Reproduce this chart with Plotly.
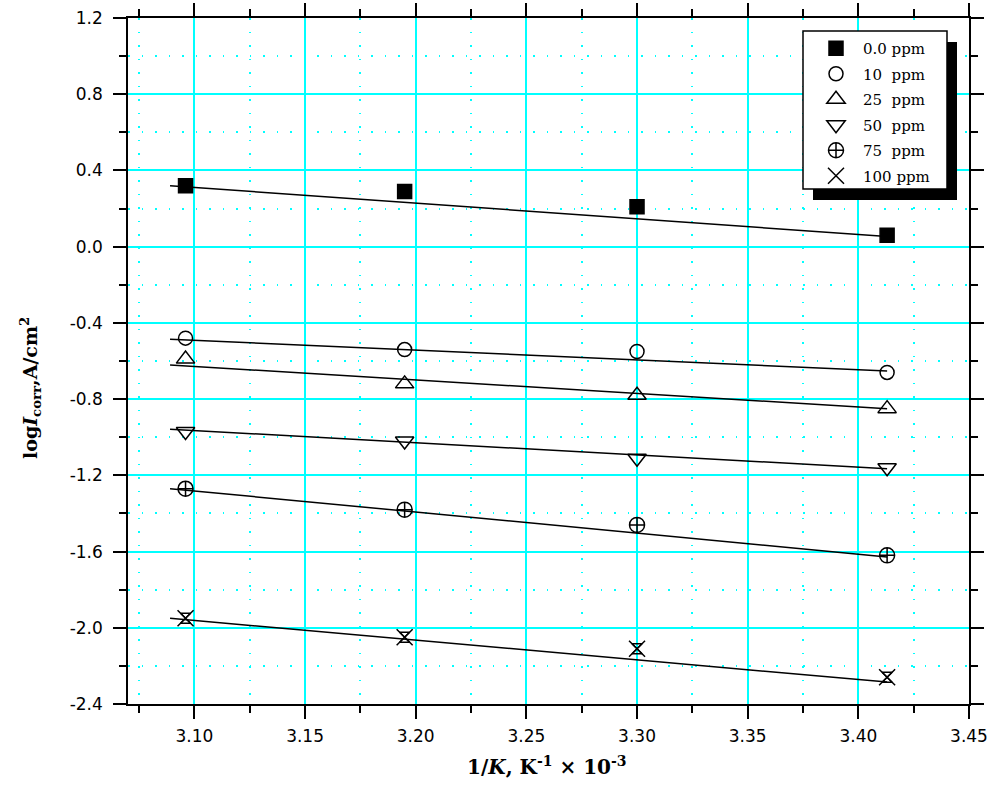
import plotly.graph_objects as go

# Inverse temperature (1/K x 10^-3) for 323, 313, 303 and 293 K
inv_temp = [3.096, 3.195, 3.300, 3.413]

# log i_corr (A/cm^2) for each inhibitor concentration
series_names = ["0.0 ppm", "10\u00a0\u00a0ppm", "25\u00a0\u00a0ppm",
                "50\u00a0\u00a0ppm", "75\u00a0\u00a0ppm", "100 ppm"]
log_icorr_0 = [0.32, 0.29, 0.21, 0.06]
log_icorr_10 = [-0.48, -0.54, -0.55, -0.66]
log_icorr_25 = [-0.59, -0.72, -0.78, -0.85]
log_icorr_50 = [-0.97, -1.02, -1.11, -1.16]
log_icorr_75 = [-1.27, -1.38, -1.46, -1.62]
log_icorr_100 = [-1.95, -2.05, -2.11, -2.26]

# Arrhenius straight lines: end points at x = fit_x[0] and fit_x[1]
fit_x = [3.089, 3.413]
fit_0 = [0.32, 0.053]
fit_10 = [-0.486, -0.652]
fit_25 = [-0.621, -0.850]
fit_50 = [-0.958, -1.165]
fit_75 = [-1.270, -1.628]
fit_100 = [-1.950, -2.285]

y_tick_vals = [1.2, 0.8, 0.4, 0.0, -0.4, -0.8, -1.2, -1.6, -2.0, -2.4]
y_tick_text = ["1.2", "0.8", "0.4", "0.0", "-0.4", "-0.8", "-1.2", "-1.6", "-2.0", "-2.4"]

values = [log_icorr_0, log_icorr_10, log_icorr_25, log_icorr_50, log_icorr_75, log_icorr_100]
fits = [fit_0, fit_10, fit_25, fit_50, fit_75, fit_100]
symbols = ["square", "circle-open", "triangle-up-open", "triangle-down-open",
           "circle-cross-open", "x-thin-open"]
sizes = [14, 14, 16, 16, 15, 16]

CYAN = "#00FFFF"
W, H = 990, 789
ML, MR, MT, MB = 128, 21, 18, 85
PW, PH = W - ML - MR, H - MT - MB


def px_x(p):
    return (p - ML) / PW


def px_y(p):
    return (H - MB - p) / PH


fig = go.Figure()

for f in fits:
    fig.add_trace(go.Scatter(x=fit_x, y=f, mode="lines",
                             line=dict(color="black", width=1.5),
                             showlegend=False, hoverinfo="skip"))

for i, (name, v, sym, sz) in enumerate(zip(series_names, values, symbols, sizes)):
    fig.add_trace(go.Scatter(
        x=inv_temp, y=v, mode="markers", name=name,
        legendgroup=f"g{i}",
        marker=dict(symbol=sym, size=sz, color="black",
                    line=dict(color="black", width=1.5)),
    ))

# inner hourglass of the 100 ppm marker
fig.add_trace(go.Scatter(
    x=inv_temp, y=log_icorr_100, mode="markers", showlegend=False,
    marker=dict(symbol="hourglass-open", size=10, color="black",
                line=dict(color="black", width=1.5)),
    hoverinfo="skip"))

# legend frame with drop shadow
box = (803, 31, 947, 189)
fig.add_shape(type="rect", xref="paper", yref="paper", layer="above",
              x0=px_x(box[0] + 10), x1=px_x(box[2] + 10),
              y0=px_y(box[3] + 11), y1=px_y(box[1] + 11),
              fillcolor="black", line=dict(width=0))
fig.add_shape(type="rect", xref="paper", yref="paper", layer="above",
              x0=px_x(box[0]), x1=px_x(box[2]),
              y0=px_y(box[3]), y1=px_y(box[1]),
              fillcolor="white", line=dict(color="black", width=1.5))

axis_common = dict(
    showline=True, linecolor="black", linewidth=1.5, mirror="ticks",
    ticks="outside", ticklen=13, tickwidth=1.5, tickcolor="black",
    showgrid=True, gridcolor=CYAN, gridwidth=1.5, zeroline=False,
    automargin=False,
    tickfont=dict(family="DejaVu Sans", size=17, color="black"),
)

fig.update_xaxes(
    range=[3.07, 3.45], tick0=3.0, dtick=0.05, tickformat=".2f",
    ticklabelstandoff=3,
    minor=dict(dtick=0.025, ticklen=7, tickwidth=1.5, tickcolor="black",
               showgrid=True, gridcolor=CYAN, gridwidth=2, griddash="1.5px,12px"),
    **axis_common)
fig.update_yaxes(
    range=[-2.4, 1.2], tickvals=y_tick_vals, ticktext=y_tick_text,
    ticklabelstandoff=7,
    minor=dict(dtick=0.2, ticklen=7, tickwidth=1.5, tickcolor="black",
               showgrid=True, gridcolor=CYAN, gridwidth=2, griddash="1.5px,12px"),
    **axis_common)

serif = "DejaVu Serif"
fig.add_annotation(
    text="<b>1/<i>K</i>, K<sup>-1</sup> \u00d7 10<sup>-3</sup></b>",
    xref="paper", yref="paper", x=px_x(547), y=px_y(766),
    xanchor="center", yanchor="middle",
    showarrow=False, font=dict(family=serif, size=20, color="black"))
fig.add_annotation(
    text="<b>log<i>I</i><sub>corr</sub>,A/cm<sup>2</sup></b>",
    xref="paper", yref="paper", x=px_x(30), y=px_y(388), textangle=-90,
    xanchor="center", yanchor="middle",
    showarrow=False, font=dict(family=serif, size=19, color="black"))

fig.update_layout(
    width=W, height=H,
    margin=dict(l=ML, r=MR, t=MT, b=MB, autoexpand=False),
    paper_bgcolor="white", plot_bgcolor="white",
    legend=dict(x=px_x(809), y=px_y(32), xanchor="left", yanchor="top",
                bgcolor="rgba(0,0,0,0)", borderwidth=0,
                font=dict(family=serif, size=15, color="black"),
                itemwidth=44, tracegroupgap=3),
)

fig.write_html("out.html")
